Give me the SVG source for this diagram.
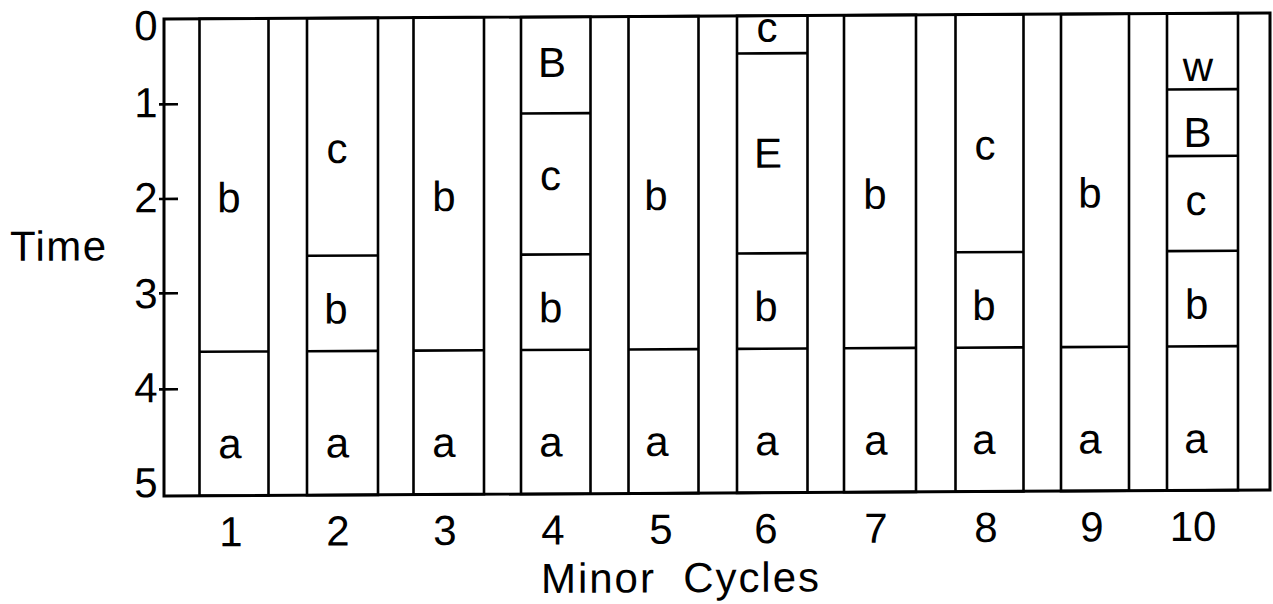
<svg xmlns="http://www.w3.org/2000/svg" width="1273" height="604" viewBox="0 0 1273 604">
<style>
.ln{stroke:#000;stroke-width:2.6;fill:none}
.fr{stroke:#000;stroke-width:3;fill:none}
text{font-family:"Liberation Sans",Arial,sans-serif;font-size:42px;fill:#000}
.m{text-anchor:middle}
</style>
<rect width="1273" height="604" fill="#fff"/>
<g id="chart" transform="matrix(1,-0.00543,0,1,0,0.89)">
<g id="axes">
<rect class="fr" x="164" y="19" width="1106" height="477"/>
<path class="ln" d="M159 104.3H178M159 199H178M159 293.3H178M159 389.3H178"/>
<text class="m" x="146" y="40">0</text>
<text class="m" x="146" y="117">1</text>
<text class="m" x="146" y="212">2</text>
<text class="m" x="146" y="308">3</text>
<text class="m" x="146" y="402">4</text>
<text class="m" x="146" y="497">5</text>
<text x="10" y="260" textLength="96" lengthAdjust="spacing">Time</text>
<text class="m" x="231" y="546.5">1</text>
<text class="m" x="338" y="546.5">2</text>
<text class="m" x="445" y="546.5">3</text>
<text class="m" x="553" y="546.5">4</text>
<text class="m" x="661" y="546.5">5</text>
<text class="m" x="766" y="546.5">6</text>
<text class="m" x="876" y="546.5">7</text>
<text class="m" x="986" y="546.5">8</text>
<text class="m" x="1092" y="546.5">9</text>
<text class="m" x="1193" y="546.5">10</text>
<text class="m" x="680" y="595" xml:space="preserve" textLength="278" lengthAdjust="spacing">Minor  Cycles</text>
</g>
<g id="cycle1">
<rect class="ln" x="199.5" y="19" width="69" height="477"/>
<path class="ln" d="M199.5 352H268.5"/>
<text class="m" x="229" y="212.5">b</text>
<text class="m" x="230" y="458.5">a</text>
</g>
<g id="cycle2">
<rect class="ln" x="307" y="19" width="71" height="477"/>
<path class="ln" d="M307 256.6H378M307 352H378"/>
<text class="m" x="337" y="164">c</text>
<text class="m" x="336" y="324.3">b</text>
<text class="m" x="337.5" y="458.5">a</text>
</g>
<g id="cycle3">
<rect class="ln" x="413.5" y="19" width="70.5" height="477"/>
<path class="ln" d="M413.5 352H484"/>
<text class="m" x="444" y="212.5">b</text>
<text class="m" x="444" y="458.5">a</text>
</g>
<g id="cycle4">
<rect class="ln" x="521" y="19" width="69.5" height="477"/>
<path class="ln" d="M521 115.4H590.5M521 256.6H590.5M521 352H590.5"/>
<text class="m" x="552" y="79">B</text>
<text class="m" x="550.5" y="192">c</text>
<text class="m" x="550.7" y="324.3">b</text>
<text class="m" x="551" y="458.5">a</text>
</g>
<g id="cycle5">
<rect class="ln" x="628.5" y="19" width="70" height="477"/>
<path class="ln" d="M628.5 352H698.5"/>
<text class="m" x="656" y="212.5">b</text>
<text class="m" x="657" y="458.5">a</text>
</g>
<g id="cycle6">
<rect class="ln" x="737" y="19" width="70.5" height="477"/>
<path class="ln" d="M737 56.6H807.5M737 256.6H807.5M737 352H807.5"/>
<text class="m" x="767" y="45">c</text>
<text class="m" x="768" y="171">E</text>
<text class="m" x="766" y="324.3">b</text>
<text class="m" x="767" y="458.5">a</text>
</g>
<g id="cycle7">
<rect class="ln" x="844" y="19" width="72" height="477"/>
<path class="ln" d="M844 352H916"/>
<text class="m" x="875" y="212.5">b</text>
<text class="m" x="876" y="458.5">a</text>
</g>
<g id="cycle8">
<rect class="ln" x="955.5" y="19" width="68" height="477"/>
<path class="ln" d="M955.5 256.6H1023.5M955.5 352H1023.5"/>
<text class="m" x="985" y="164">c</text>
<text class="m" x="984" y="324.3">b</text>
<text class="m" x="984" y="458.5">a</text>
</g>
<g id="cycle9">
<rect class="ln" x="1061" y="19" width="68" height="477"/>
<path class="ln" d="M1061 352H1129"/>
<text class="m" x="1090" y="212.5">b</text>
<text class="m" x="1090" y="458.5">a</text>
</g>
<g id="cycle10">
<rect class="ln" x="1167" y="19" width="71" height="477"/>
<path class="ln" d="M1167 95H1238M1167 161.6H1238M1167 256.6H1238M1167 352H1238"/>
<text class="m" x="1198" y="86.6">w</text>
<text class="m" x="1197.5" y="152.6">B</text>
<text class="m" x="1196" y="220.6">c</text>
<text class="m" x="1196.7" y="324.3">b</text>
<text class="m" x="1196" y="458.5">a</text>
</g>
<g id="connectors"/>
</g>
</svg>
